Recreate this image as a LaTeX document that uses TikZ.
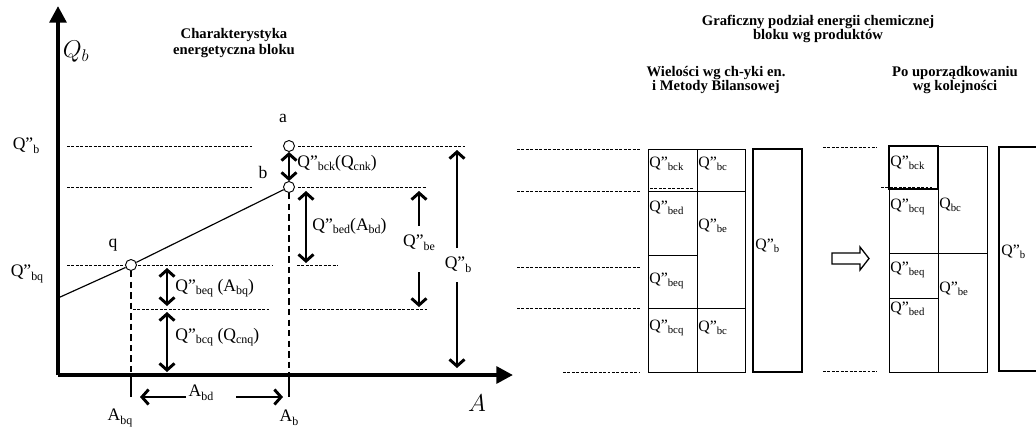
\documentclass[tikz,border=0pt]{standalone}
\usepackage{fontspec}
\setmainfont{Liberation Serif}
\usetikzlibrary{arrows.meta}

\newcommand{\idx}[1]{\raisebox{-0.45ex}{\scalebox{0.68}{#1}}}
\newcommand{\Qpp}[1]{Q”\idx{#1}}

\begin{document}
\begin{tikzpicture}[x=0.3mm, y=-0.3mm,
    guide/.style={line width=0.8pt, dash pattern=on 2.5pt off 1.3pt},
    drop/.style={line width=2.4pt, dash pattern=on 5.5pt off 3.5pt},
    axis/.style={line width=3.4pt, -{Triangle[length=5mm,width=5mm]}},
    barb/.style={line width=2.5pt, -{Straight Barb[length=2mm,width=4.5mm]}},
    dim/.style={barb, {Straight Barb[length=2mm,width=4.5mm]}-{Straight Barb[length=2mm,width=4.5mm]}},
    pt/.style={circle, draw, fill=white, inner sep=0pt, minimum size=3.3mm, line width=0.8pt},
    lab/.style={font=\fontsize{15}{17}\selectfont, inner sep=1pt},
    celltxt/.style={font=\fontsize{13.5}{15}\selectfont, inner sep=1pt, anchor=west},
    head/.style={font=\fontsize{12.5}{14.5}\selectfont\bfseries, align=center},
    cell/.style={draw, line width=0.8pt},
    tot/.style={draw, line width=2.5pt}]
  \useasboundingbox (0,0) rectangle (1036,428);

  % --- charakterystyka energetyczna ---
  \coordinate (O) at (58,375);
  \draw[axis] (O) -- (58,6);
  \draw[axis] (O) -- (513,375);
  \node[font=\fontsize{20}{24}\selectfont] (qb) at (76,52) {$Q_b$};
  \node[font=\fontsize{20}{24}\selectfont] (aa) at (477,403) {$A$};
  \node[head] (t1) at (234,43) {Charakterystyka\\[-1pt]energetyczna bloku};

  % poziomy pomocnicze
  \draw[guide] (67,146) -- (252,146);
  \draw[guide] (298,146) -- (465,146);
  \draw[guide] (67,187) -- (252,187);
  \draw[guide] (298,187) -- (427,187);
  \draw[guide] (67,265) -- (272,265);
  \draw[guide] (297,265) -- (338,265);
  \draw[guide] (133,309) -- (271,309);
  \draw[guide] (300,309) -- (427,309);

  \node[lab] (lqb) at (26,146) {\Qpp{b}};
  \node[lab] (lqbq) at (27,274) {\Qpp{bq}};

  % punkty a, b, q
  \node[pt] (a) at (289,146) {};
  \node[pt] (b) at (289,187) {};
  \node[pt] (q) at (131,265) {};
  \node[lab] (la) at (283,118) {a};
  \node[lab] (lb) at (263,172) {b};
  \node[lab] (lq) at (113,245) {q};
  \coordinate (s) at (58,298);
  \draw[line width=1pt] (s) -- (q);
  \draw[line width=1pt] (q) -- (b);

  % rzuty na os A
  \draw[drop] (q.south) -- (q |- O);
  \draw[drop] (b.south) -- (b |- O);
  \draw[line width=2pt] (q |- O) -- ++(0,22);
  \draw[line width=2pt] (b |- O) -- ++(0,22);
  \node[lab] (abq) at (120,418) {A\idx{bq}};
  \node[lab] (ab) at (289,418) {A\idx{b}};
  \node[lab] (abd) at (201,393) {A\idx{bd}};
  \draw[barb] (186,397) -- (140,397);
  \draw[barb] (236,397) -- (283,397);

  % wielkosci
  \draw[dim] (a) -- (b);
  \node[lab, anchor=west] (lbck) at (296,163) {\Qpp{bck}(Q\idx{cnk})};
  \draw[dim] (306,191) -- (306,263);
  \node[lab, anchor=west] (lbed) at (311,226) {\Qpp{bed}(A\idx{bd})};
  \node[lab] (lbe) at (419,243) {\Qpp{be}};
  \draw[barb] (419,226) -- (419,191);
  \draw[barb] (419,272) -- (419,307);
  \node[lab] (lb2) at (458,265) {\Qpp{b}};
  \draw[barb] (457,248) -- (457,150);
  \draw[barb] (457,282) -- (457,368);
  \draw[dim] (167,268) -- (167,306);
  \node[lab, anchor=west] (lbeq) at (174,288) {\Qpp{beq} (A\idx{bq})};
  \draw[dim] (167,312) -- (167,372);
  \node[lab, anchor=west] (lbcq) at (174,337) {\Qpp{bcq} (Q\idx{cnq})};

  % --- graficzny podzial ---
  \node[head] (t2) at (818,29) {Graficzny podział energii chemicznej\\[-2.5pt]bloku wg produktów};
  \node[head] (t3) at (716,80) {Wielości wg ch-yki en.\\[-2.5pt]i Metody Bilansowej};
  \node[head] (t4) at (955,80) {Po uporządkowaniu\\[-2.5pt]wg kolejności};

  \draw[guide] (517,149) -- (640,149);
  \draw[guide] (517,191) -- (640,191);
  \draw[guide] (517,267) -- (640,267);
  \draw[guide] (517,308) -- (640,308);
  \draw[guide] (563,372) -- (640,372);

  % wg ch-yki
  \draw[cell] (648,149) rectangle (697,191);
  \draw[guide] (650,188) -- (693,188);
  \draw[cell] (697,149) rectangle (745,191);
  \draw[cell] (648,191) rectangle (697,255);
  \draw[cell] (648,255) rectangle (697,308);
  \draw[cell] (697,191) rectangle (745,308);
  \draw[cell] (648,308) rectangle (697,372);
  \draw[cell] (697,308) rectangle (745,372);
  \draw[tot] (753,149) rectangle (802,372);
  \node[celltxt] (c1) at (648,164) {\Qpp{bck}};
  \node[celltxt] (c2) at (697,164) {\Qpp{bc}};
  \node[celltxt] (c3) at (648,208) {\Qpp{bed}};
  \node[celltxt] (c4) at (697,226) {\Qpp{be}};
  \node[celltxt] (c5) at (648,281) {\Qpp{beq}};
  \node[celltxt] (c6) at (648,328) {\Qpp{bcq}};
  \node[celltxt] (c7) at (697,328) {\Qpp{bc}};
  \node[celltxt] (c8) at (754,246) {\Qpp{b}};

  % strzalka
  \draw[line width=1.1pt] (832,253) -- (860,253) -- (860,247) -- (869,258.5)
    -- (860,270) -- (860,264) -- (832,264) -- cycle;

  % po uporzadkowaniu
  \draw[guide] (823,147) -- (877,147);
  \draw[guide] (823,371) -- (877,371);
  \draw[cell] (889,189) rectangle (938,253);
  \draw[cell] (889,253) rectangle (938,298);
  \draw[cell] (889,298) rectangle (938,372);
  \draw[cell] (938,146) rectangle (987,253);
  \draw[cell] (938,253) rectangle (987,372);
  \draw[draw, line width=1.3pt] (889,146) rectangle (938,189);
  \draw[guide] (881,187) -- (932,187);
  \draw[tot] (1040,147) -- (999,147) -- (999,371) -- (1040,371);
  \node[celltxt] (d1) at (889,163) {\Qpp{bck}};
  \node[celltxt] (d2) at (889,207) {\Qpp{bcq}};
  \node[celltxt] (d3) at (938,205) {Q\idx{bc}};
  \node[celltxt] (d4) at (889,270) {\Qpp{beq}};
  \node[celltxt] (d5) at (938,289) {\Qpp{be}};
  \node[celltxt] (d6) at (889,309) {\Qpp{bed}};
  \node[celltxt] (d7) at (1000,252) {\Qpp{b}};
\end{tikzpicture}
\end{document}
